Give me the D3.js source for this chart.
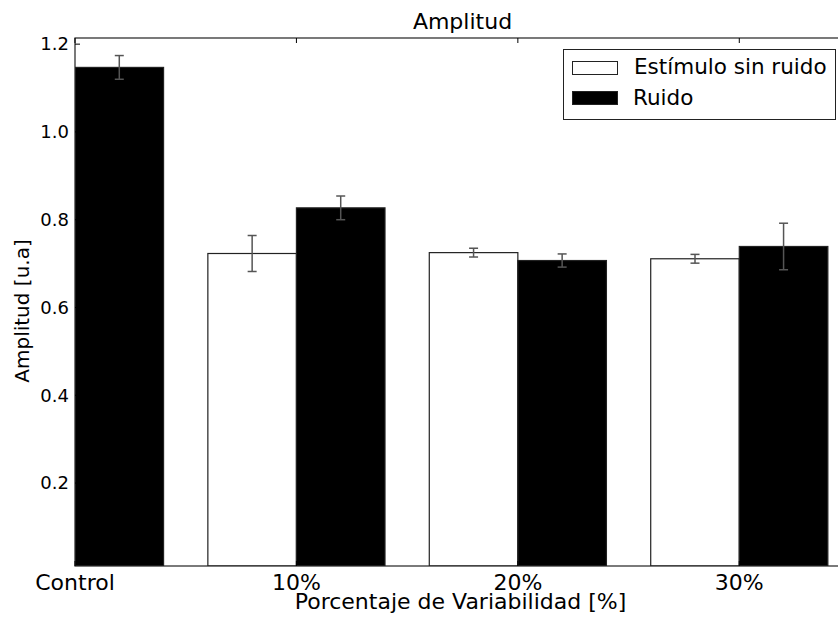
<!DOCTYPE html>
<html>
<head>
<meta charset="utf-8">
<script src="https://cdn.jsdelivr.net/npm/d3@7"></script>
<style>
  body { margin: 0; background: #fff; }
  text { font-family: "DejaVu Sans", sans-serif; fill: #000; }
</style>
</head>
<body>
<div id="chart"></div>
<script>
// data
var categories = ["Control", "10%", "20%", "30%"];
var sinRuido = [null, 0.723, 0.725, 0.711];
var sinRuidoErr = [null, 0.041, 0.010, 0.010];
var ruido = [1.147, 0.827, 0.707, 0.739];
var ruidoErr = [0.027, 0.027, 0.015, 0.053];
var yTicks = [0.2, 0.4, 0.6, 0.8, 1.0, 1.2];

var W = 838, H = 624;
var pLeft = 75, pRight = 850, pTop = 38, pBottom = 566;
var barW = 0.4;

var svg = d3.select("#chart")
    .append("svg")
    .attr("width", W)
    .attr("height", H);

var x = d3.scaleLinear()
    .domain([0, 3.5])
    .range([pLeft, pRight]);

var y = d3.scaleLinear()
    .domain([0.011, 1.214])
    .range([pBottom, pTop]);

svg.append("clipPath").attr("id", "clip")
    .append("rect")
    .attr("x", pLeft).attr("y", pTop)
    .attr("width", pRight - pLeft).attr("height", pBottom - pTop);

var plot = svg.append("g").attr("clip-path", "url(#clip)");

// white bars (sin ruido) sit left of tick, black ones right of it
categories.forEach(function (c, i) {
    if (sinRuido[i] != null) {
        plot.append("rect")
            .attr("x", x(i - barW))
            .attr("y", y(sinRuido[i]))
            .attr("width", x(barW) - x(0))
            .attr("height", pBottom - y(sinRuido[i]))
            .attr("fill", "#fff")
            .attr("stroke", "#222")
            .attr("stroke-width", 1.2);
    }
    plot.append("rect")
        .attr("x", x(i))
        .attr("y", y(ruido[i]))
        .attr("width", x(barW) - x(0))
        .attr("height", pBottom - y(ruido[i]))
        .attr("fill", "#000")
        .attr("stroke", "#222")
        .attr("stroke-width", 1.2);
});

// error bars
function errBar(cx, v, e) {
    var g = plot.append("g").attr("stroke", "#555").attr("stroke-width", 1.5);
    g.append("line").attr("x1", cx).attr("x2", cx).attr("y1", y(v - e)).attr("y2", y(v + e));
    g.append("line").attr("x1", cx - 4.5).attr("x2", cx + 4.5).attr("y1", y(v - e)).attr("y2", y(v - e));
    g.append("line").attr("x1", cx - 4.5).attr("x2", cx + 4.5).attr("y1", y(v + e)).attr("y2", y(v + e));
}
categories.forEach(function (c, i) {
    if (sinRuido[i] != null) errBar(x(i - barW / 2), sinRuido[i], sinRuidoErr[i]);
    errBar(x(i + barW / 2), ruido[i], ruidoErr[i]);
});

// frame
svg.append("rect")
    .attr("x", pLeft).attr("y", pTop)
    .attr("width", pRight - pLeft).attr("height", pBottom - pTop)
    .attr("fill", "none")
    .attr("stroke", "#222")
    .attr("stroke-width", 1.2);

// ticks (inside, both sides)
yTicks.forEach(function (t) {
    svg.append("line").attr("x1", pLeft).attr("x2", pLeft + 5)
        .attr("y1", y(t)).attr("y2", y(t)).attr("stroke", "#000");
    svg.append("text")
        .attr("x", pLeft - 6).attr("y", y(t))
        .attr("dy", "0.35em")
        .attr("text-anchor", "end")
        .style("font-size", "18px")
        .text(d3.format(".1f")(t));
});
categories.forEach(function (c, i) {
    svg.append("line").attr("x1", x(i)).attr("x2", x(i))
        .attr("y1", pBottom).attr("y2", pBottom - 5).attr("stroke", "#000");
    svg.append("line").attr("x1", x(i)).attr("x2", x(i))
        .attr("y1", pTop).attr("y2", pTop + 5).attr("stroke", "#000");
    svg.append("text")
        .attr("x", x(i)).attr("y", 590)
        .attr("text-anchor", "middle")
        .style("font-size", "22px")
        .text(c);
});

// title and labels
svg.append("text")
    .attr("x", (pLeft + pRight) / 2).attr("y", 29)
    .attr("text-anchor", "middle")
    .style("font-size", "22px")
    .text("Amplitud");

svg.append("text")
    .attr("x", (pLeft + pRight) / 2 - 2).attr("y", 609)
    .attr("text-anchor", "middle")
    .style("font-size", "22px")
    .text("Porcentaje de Variabilidad [%]");

svg.append("text")
    .attr("transform", "translate(29," + 311 + ")rotate(-90)")
    .attr("text-anchor", "middle")
    .style("font-size", "20px")
    .text("Amplitud [u.a]");

// legend
var lg = svg.append("g");
lg.append("rect")
    .attr("x", 563.5).attr("y", 49.5)
    .attr("width", 272).attr("height", 70)
    .attr("fill", "#fff").attr("stroke", "#222");
lg.append("rect")
    .attr("x", 572.5).attr("y", 61.5).attr("width", 45).attr("height", 13)
    .attr("fill", "#fff").attr("stroke", "#222");
lg.append("rect")
    .attr("x", 572.5).attr("y", 91.5).attr("width", 45).attr("height", 13)
    .attr("fill", "#000").attr("stroke", "#222");
lg.append("text").attr("x", 634).attr("y", 74)
    .style("font-size", "21.5px").text("Estímulo sin ruido");
lg.append("text").attr("x", 633).attr("y", 105)
    .style("font-size", "21.5px").text("Ruido");
</script>
</body>
</html>
